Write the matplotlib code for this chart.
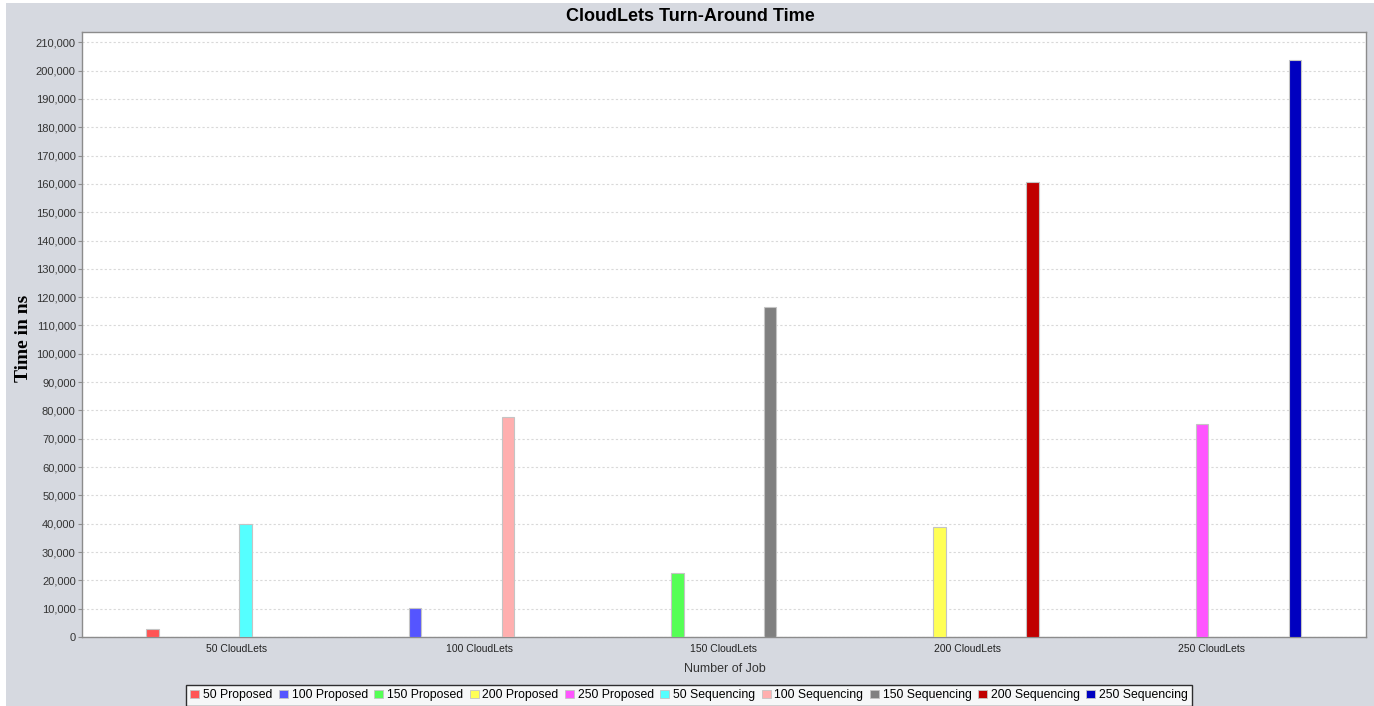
import matplotlib
matplotlib.use("Agg")
import matplotlib.pyplot as plt
from matplotlib.patches import Rectangle, Patch
from matplotlib.ticker import FuncFormatter, MultipleLocator

# ---- data ----
categories = ["50 CloudLets", "100 CloudLets", "150 CloudLets", "200 CloudLets", "250 CloudLets"]
proposed_names = ["50 Proposed", "100 Proposed", "150 Proposed", "200 Proposed", "250 Proposed"]
sequencing_names = ["50 Sequencing", "100 Sequencing", "150 Sequencing", "200 Sequencing", "250 Sequencing"]
proposed = [2800, 10400, 22500, 38800, 75200]
sequencing = [39800, 77700, 116500, 160800, 203900]

colors = ["#FF5555", "#5555FF", "#55FF55", "#FFFF55", "#FF55FF",
          "#55FFFF", "#FFAFAF", "#808080", "#C00000", "#0000C0"]

series_names = proposed_names + sequencing_names
# each series holds a value only in its own category
series_cat = list(range(5)) + list(range(5))
series_val = proposed + sequencing

W, H = 1374, 706
fig = plt.figure(figsize=(W / 100, H / 100), dpi=100)
fig.patch.set_facecolor("white")
bg = "#D6D9E0"
fig.patches.append(Rectangle((6 / W, 0), 1 - 6 / W, 1 - 3 / H, transform=fig.transFigure,
                             facecolor=bg, edgecolor="none", zorder=-10))

left, right, top, bottom = 82, 1365.5, 31.5, 637
ax = fig.add_axes([left / W, (H - bottom) / H, (right - left) / W, (bottom - top) / H])
ax.set_facecolor("white")

slot = 0.0762
bw = 0.0512
for s, (name, c, v) in enumerate(zip(series_names, series_cat, series_val)):
    x = c + (s - 4.5) * slot
    ax.bar([x], [v], width=bw, color=colors[s], edgecolor="#C4C4C4", linewidth=0.8, zorder=3)

ax.set_xlim(-0.632, 4.632)
ax.set_ylim(0, 213800)
ax.yaxis.set_major_locator(MultipleLocator(10000))
ax.yaxis.set_major_formatter(FuncFormatter(lambda v, p: f"{int(v):,}"))
ax.set_xticks(range(len(categories)))
ax.set_xticklabels(categories)

ax.grid(axis="y", color="#D9D9D9", linestyle=(0, (2, 2)), linewidth=0.8, zorder=0)
ax.set_axisbelow(True)

for sp in ax.spines.values():
    sp.set_color("#8C8C8C")
    sp.set_linewidth(1.0)

ax.tick_params(axis="y", length=3, width=0.8, color="#8C8C8C", pad=1.5,
               labelsize=8, labelcolor="#333333")
ax.tick_params(axis="x", length=0, pad=5, labelsize=7.5, labelcolor="#222222")
for lab in ax.get_yticklabels():
    lab.set_fontfamily("Liberation Sans")
for lab in ax.get_xticklabels():
    lab.set_fontfamily("Liberation Sans")

fig.text(690 / W, 1 - 16.5 / H, "CloudLets Turn-Around Time", ha="center", va="center",
         fontsize=13, fontweight="bold", family="Liberation Sans", color="black")
fig.text(24 / W, 1 - 338 / H, "Time in ns", ha="center", va="center", rotation=90,
         fontsize=14, fontweight="bold", family="Liberation Serif", color="black")
fig.text(725 / W, 1 - 669 / H, "Number of Job", ha="center", va="center",
         fontsize=9, family="Liberation Sans", color="#333333")

handles = [Patch(facecolor=colors[i], edgecolor="#C4C4C4", linewidth=0.6) for i in range(10)]
leg = fig.legend(handles, series_names, loc="upper center", bbox_to_anchor=(689 / W, 1 - 685 / H),
                 ncol=10, frameon=True, fancybox=False, borderpad=0.35,
                 prop={"family": "Liberation Sans", "size": 8.8},
                 handlelength=0.75, handleheight=0.75, handletextpad=0.3,
                 columnspacing=0.52, borderaxespad=0)
leg.get_frame().set_edgecolor("black")
leg.get_frame().set_linewidth(1.0)

fig.savefig("out.png", dpi=100, facecolor=fig.get_facecolor())
